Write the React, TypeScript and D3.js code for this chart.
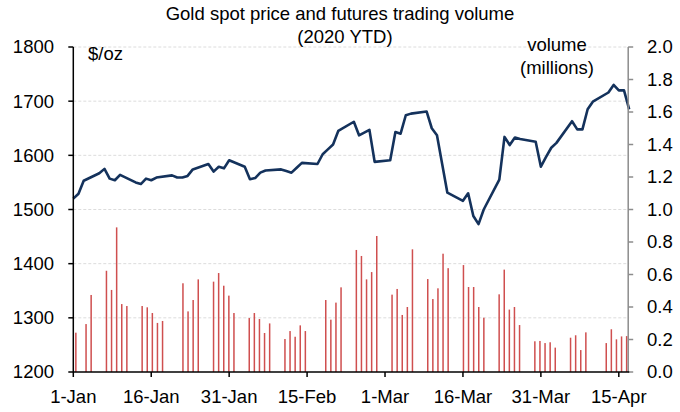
import React from "react";
import * as d3 from "d3";

const lineDates = [
  "2020-01-01","2020-01-02","2020-01-03","2020-01-06","2020-01-07","2020-01-08","2020-01-09","2020-01-10",
  "2020-01-13","2020-01-14","2020-01-15","2020-01-16","2020-01-17","2020-01-20","2020-01-21","2020-01-22",
  "2020-01-23","2020-01-24","2020-01-27","2020-01-28","2020-01-29","2020-01-30","2020-01-31",
  "2020-02-03","2020-02-04","2020-02-05","2020-02-06","2020-02-07","2020-02-10","2020-02-11","2020-02-12",
  "2020-02-13","2020-02-14","2020-02-17","2020-02-18","2020-02-19","2020-02-20","2020-02-21","2020-02-24",
  "2020-02-25","2020-02-26","2020-02-27","2020-02-28",
  "2020-03-02","2020-03-03","2020-03-04","2020-03-05","2020-03-06","2020-03-09","2020-03-10","2020-03-11",
  "2020-03-12","2020-03-13","2020-03-16","2020-03-17","2020-03-18","2020-03-19","2020-03-20","2020-03-23",
  "2020-03-24","2020-03-25","2020-03-26","2020-03-27","2020-03-30","2020-03-31",
  "2020-04-01","2020-04-02","2020-04-03","2020-04-06","2020-04-07","2020-04-08","2020-04-09","2020-04-10",
  "2020-04-13","2020-04-14","2020-04-15","2020-04-16","2020-04-17",
];
const priceValues = [
  1520,1529,1553,1567,1575,1557,1554,1564,
  1550,1547,1557,1554,1559,1563,1559,1559,
  1562,1574,1584,1570,1579,1576,1591,
  1579,1556,1558,1568,1572,1574,1571,1568,
  1577,1586,1584,1602,1611,1620,1645,1662,
  1637,1642,1647,1588,
  1591,1643,1640,1674,1677,1681,1650,1637,
  1584,1531,1516,1530,1488,1473,1500,1555,
  1634,1619,1633,1630,1625,1579,
  1597,1614,1623,1663,1648,1648,1685,1699,
  1716,1730,1720,1720,1685,
];

const barDates = [
  "2019-12-31","2020-01-02","2020-01-03","2020-01-06","2020-01-07","2020-01-08","2020-01-09","2020-01-10",
  "2020-01-13","2020-01-14","2020-01-15","2020-01-16","2020-01-17","2020-01-21","2020-01-22","2020-01-23",
  "2020-01-24","2020-01-27","2020-01-28","2020-01-29","2020-01-30","2020-01-31",
  "2020-02-03","2020-02-04","2020-02-05","2020-02-06","2020-02-07","2020-02-10","2020-02-11","2020-02-12",
  "2020-02-13","2020-02-14","2020-02-18","2020-02-19","2020-02-20","2020-02-21","2020-02-24","2020-02-25",
  "2020-02-26","2020-02-27","2020-02-28",
  "2020-03-02","2020-03-03","2020-03-04","2020-03-05","2020-03-06","2020-03-09","2020-03-10","2020-03-11",
  "2020-03-12","2020-03-13","2020-03-16","2020-03-17","2020-03-18","2020-03-19","2020-03-20","2020-03-23",
  "2020-03-24","2020-03-25","2020-03-26","2020-03-27","2020-03-30","2020-03-31",
  "2020-04-01","2020-04-02","2020-04-03","2020-04-06","2020-04-07","2020-04-08","2020-04-09",
  "2020-04-13","2020-04-14","2020-04-15","2020-04-16","2020-04-17",
];
const volumeValues = [
  0.242,0.295,0.474,0.623,0.505,0.890,0.418,0.406,
  0.406,0.398,0.363,0.302,0.314,0.546,0.373,0.443,
  0.570,0.556,0.609,0.531,0.470,0.363,
  0.332,0.363,0.326,0.240,0.299,0.203,0.252,0.217,
  0.287,0.252,0.443,0.322,0.427,0.521,0.751,0.714,
  0.570,0.615,0.837,
  0.476,0.511,0.351,0.400,0.755,0.572,0.449,0.515,
  0.728,0.639,0.658,0.523,0.523,0.400,0.334,0.478,
  0.630,0.384,0.400,0.289,0.189,0.191,
  0.178,0.183,0.150,0.211,0.226,0.135,0.244,
  0.178,0.263,0.201,0.219,0.221,
];

const priceTicks = [1200, 1300, 1400, 1500, 1600, 1700, 1800];
const volumeTicks = [0, 0.2, 0.4, 0.6, 0.8, 1.0, 1.2, 1.4, 1.6, 1.8, 2.0];
const dateTicks = ["2020-01-01","2020-01-16","2020-01-31","2020-02-15","2020-03-01","2020-03-16","2020-03-31","2020-04-15"];
const dateTickLabels = ["1-Jan","16-Jan","31-Jan","15-Feb","1-Mar","16-Mar","31-Mar","15-Apr"];

const titleLines = ["Gold spot price and futures trading volume", "(2020 YTD)"];
const leftUnit = "$/oz";
const rightUnit = ["volume", "(millions)"];

const parse = d3.utcParse("%Y-%m-%d");
const FONT = "'Liberation Sans', Arial, sans-serif";
const FS = 18.5;

export default function App() {
  const W = 680, H = 412;
  const L = 73.3, R = 629.2, T = 47, B = 372;

  const xLine = d3.scaleUtc().domain([parse("2020-01-01")!, parse("2020-04-17")!]).range([L, R]);
  const allDays = d3.utcDay.range(parse("2019-12-31")!, parse("2020-04-18")!).map(d => d3.utcFormat("%Y-%m-%d")(d));
  const xBar = d3.scaleBand<string>().domain(allDays).range([L, R]).padding(0);
  const yPrice = d3.scaleLinear().domain([1200, 1800]).range([B, T]);
  const yVol = d3.scaleLinear().domain([0, 2]).range([B, T]);

  const linePts = lineDates.map((d, i) => [xLine(parse(d)!), yPrice(priceValues[i])] as [number, number]);
  const linePath = d3.line()(linePts) || "";
  const bw = 1.5;

  return (
    <svg width={W} height={H} style={{ position: "absolute", left: 0, top: 0, background: "#fff" }} fontFamily={FONT}>
      <rect x={0} y={0} width={W} height={H} fill="#fff" />
      {/* gridlines */}
      {priceTicks.filter(t => t !== 1200).map(t => (
        <line key={"g" + t} x1={L} x2={R} y1={yPrice(t)} y2={yPrice(t)} stroke="#dcdcdc" strokeWidth={1} strokeDasharray="3,2" />
      ))}
      {/* bars */}
      {barDates.map((d, i) => (
        <rect key={"b" + d} x={(xBar(d) as number) + xBar.bandwidth() / 2 - bw / 2} y={yVol(volumeValues[i])}
          width={bw} height={B - yVol(volumeValues[i])} fill="#cf4f4f" />
      ))}
      {/* line */}
      <path d={linePath} fill="none" stroke="#14325c" strokeWidth={2.6} strokeLinejoin="round" />
      {/* left axis */}
      <line x1={L} x2={L} y1={T} y2={B} stroke="#000" strokeWidth={1.5} />
      {priceTicks.map(t => (
        <g key={"pt" + t}>
          <line x1={L - 5} x2={L} y1={yPrice(t)} y2={yPrice(t)} stroke="#000" strokeWidth={1.5} />
          <text x={54} y={yPrice(t)} dy="0.35em" textAnchor="end" fontSize={FS} fill="#000">{t}</text>
        </g>
      ))}
      {/* right axis */}
      <line x1={R - 1} x2={R - 1} y1={T} y2={B} stroke="#8c8c8c" strokeWidth={1.5} />
      {volumeTicks.map(t => (
        <g key={"vt" + t}>
          <line x1={R - 1} x2={R + 4} y1={yVol(t)} y2={yVol(t)} stroke="#8c8c8c" strokeWidth={1.5} />
          <text x={647} y={yVol(t)} dy="0.35em" textAnchor="start" fontSize={FS} fill="#000">{t.toFixed(1)}</text>
        </g>
      ))}
      {/* bottom axis */}
      <line x1={L} x2={R} y1={B} y2={B} stroke="#000" strokeWidth={1.5} />
      {dateTicks.map((d, i) => (
        <g key={"dt" + d}>
          <line x1={xLine(parse(d)!)} x2={xLine(parse(d)!)} y1={B} y2={B + 5} stroke="#000" strokeWidth={1.5} />
          <text x={xLine(parse(d)!)} y={397} dy="0.35em" textAnchor="middle" fontSize={FS} fill="#000">{dateTickLabels[i]}</text>
        </g>
      ))}
      {/* titles */}
      <text x={340} y={14} dy="0.35em" textAnchor="middle" fontSize={FS} fill="#000">{titleLines[0]}</text>
      <text x={345} y={37} dy="0.35em" textAnchor="middle" fontSize={FS} fill="#000">{titleLines[1]}</text>
      <text x={88} y={54} dy="0.35em" textAnchor="start" fontSize={FS} fill="#000">{leftUnit}</text>
      <text x={557} y={45} dy="0.35em" textAnchor="middle" fontSize={FS} fill="#000">{rightUnit[0]}</text>
      <text x={557} y={68} dy="0.35em" textAnchor="middle" fontSize={FS} fill="#000">{rightUnit[1]}</text>
    </svg>
  );
}
